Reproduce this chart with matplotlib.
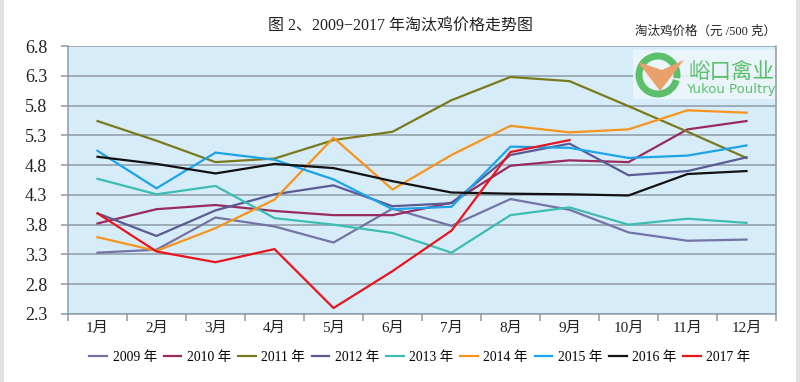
import matplotlib
matplotlib.use("Agg")
import matplotlib.pyplot as plt
from matplotlib.patches import Rectangle, Arc, Polygon

plt.rcParams['font.family'] = ['Liberation Serif', 'Noto Sans CJK SC', 'DejaVu Sans']

months = ["1月", "2月", "3月", "4月", "5月", "6月", "7月", "8月", "9月", "10月", "11月", "12月"]
y2009 = [3.33, 3.38, 3.92, 3.77, 3.50, 4.07, 3.78, 4.23, 4.05, 3.67, 3.53, 3.55]
y2010 = [3.82, 4.06, 4.13, 4.03, 3.96, 3.96, 4.17, 4.79, 4.88, 4.85, 5.40, 5.54]
y2011 = [5.54, 5.21, 4.85, 4.91, 5.22, 5.36, 5.89, 6.28, 6.21, 5.79, 5.36, 4.92]
y2012 = [3.99, 3.61, 4.04, 4.31, 4.46, 4.11, 4.16, 4.97, 5.16, 4.63, 4.70, 4.93]
y2013 = [4.57, 4.31, 4.45, 3.91, 3.80, 3.66, 3.33, 3.96, 4.09, 3.80, 3.90, 3.83]
y2014 = [3.59, 3.36, 3.74, 4.22, 5.26, 4.39, 4.97, 5.46, 5.35, 5.40, 5.72, 5.68]
y2015 = [5.04, 4.41, 5.01, 4.89, 4.56, 4.06, 4.10, 5.11, 5.09, 4.92, 4.96, 5.13]
y2016 = [4.94, 4.82, 4.66, 4.82, 4.75, 4.53, 4.34, 4.32, 4.31, 4.29, 4.65, 4.70]
y2017 = [3.99, 3.35, 3.17, 3.39, 2.40, 3.02, 3.70, 5.02, 5.22]

series_names = ["2009 年", "2010 年", "2011 年", "2012 年", "2013 年",
                "2014 年", "2015 年", "2016 年", "2017 年"]
series_vals = [y2009, y2010, y2011, y2012, y2013, y2014, y2015, y2016, y2017]
colors = ['#7473a6', '#9a2b5e', '#7a7a1c', '#5a5a95', '#3dbcb4',
          '#f7941d', '#1ca3e8', '#111111', '#e8141e']
yticks = [2.3, 2.8, 3.3, 3.8, 4.3, 4.8, 5.3, 5.8, 6.3, 6.8]
ytick_labels = ["2.3", "2.8", "3.3", "3.8", "4.3", "4.8", "5.3", "5.8", "6.3", "6.8"]

fig = plt.figure(figsize=(8, 3.82), dpi=100)
ax = fig.add_axes([68/800, 68/382, 708/800, 268/382])
ax.set_facecolor('#d7ecf9')

# side strips of the page
fig.patches.append(Rectangle((0, 0), 4/800, 1, transform=fig.transFigure,
                             facecolor='#e2e2e2', edgecolor='none'))
fig.patches.append(Rectangle((796/800, 0), 4/800, 1, transform=fig.transFigure,
                             facecolor='#e2e2e2', edgecolor='none'))

x = list(range(len(months)))
handles = []
for name, vals, c in zip(series_names, series_vals, colors):
    ln, = ax.plot(x[:len(vals)], vals, color=c, lw=1.6, zorder=3, label=name)
    handles.append(ln)

ax.set_xlim(-0.5, 11.5)
ax.set_ylim(2.3, 6.8)
ax.set_yticks(yticks)
ax.set_yticklabels(ytick_labels, fontsize=13, color='#222222')
ax.yaxis.grid(True, color='#8d9aa5', lw=1.1, zorder=1)
ax.set_xticks(x)
ax.set_xticklabels(months, fontsize=11, color='#222222')
ax.set_xticks([i - 0.5 for i in range(13)], minor=True)
ax.tick_params(axis='x', which='major', length=0, pad=6)
ax.tick_params(axis='x', which='minor', length=5, color='#8d9aa5', width=1.1)
ax.tick_params(axis='y', length=5, color='#8d9aa5', width=1.1, pad=10)
ax.spines['top'].set_visible(False)
for s in ['left', 'right', 'bottom']:
    ax.spines[s].set_color('#8d9aa5')
    ax.spines[s].set_linewidth(1.1)

fig.text(0.5, 1 - 27/382, "图 2、2009−2017 年淘汰鸡价格走势图", ha='center', va='center',
         fontsize=11.5, color='#222222')
fig.text(776/800, 1 - 32/382, "淘汰鸡价格（元 /500 克）", ha='right', va='center',
         fontsize=9, color='#222222')

# logo
fig.patches.append(Rectangle((633/800, 1 - 99/382), 142/800, 49/382, transform=fig.transFigure,
                             facecolor='#eef7fc', edgecolor='none', alpha=0.85, zorder=4))
cx, cy, r = 658, 75, 19
arc = Arc((cx/800, 1 - cy/382), 2*r/800, 2*r/382, theta1=-20, theta2=330,
          transform=fig.transFigure, color='#5cbf6a', lw=5, zorder=5)
fig.patches.append(arc)
vpts = [(638, 62), (662, 70), (684, 60), (660, 91)]
fig.patches.append(Polygon([(px/800, 1 - py/382) for px, py in vpts], closed=True,
                           transform=fig.transFigure, facecolor='#e9a06a', edgecolor='none', zorder=6))
fig.text(731/800, 1 - 72/382, "峪口禽业", ha='center', va='center', fontsize=15.5,
         color='#5cbf6a', family=['Noto Sans CJK SC'], zorder=7)
fig.text(731/800, 1 - 90/382, "Yukou Poultry", ha='center', va='center', fontsize=9.5,
         color='#5cbf6a', family=['DejaVu Sans'], zorder=7)

fig.legend(handles=handles, labels=series_names, loc='center', ncol=9,
           bbox_to_anchor=(420/800, 1 - 357/382), frameon=False, fontsize=9.8,
           handlelength=1.3, handletextpad=0.4, columnspacing=0.5)

fig.savefig("out.png", dpi=100, facecolor='white')
